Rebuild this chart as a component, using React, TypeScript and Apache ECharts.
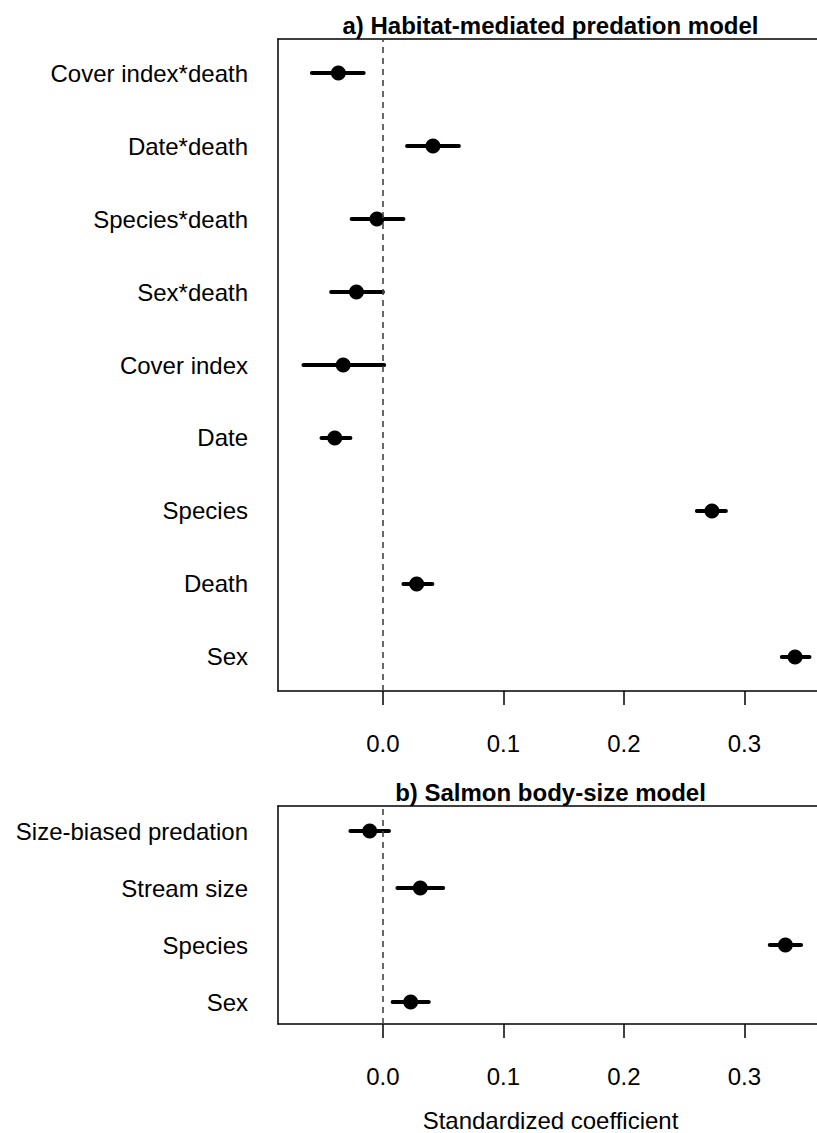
import React, { useEffect, useRef } from "react";
import * as echarts from "echarts";

// Panel a: Habitat-mediated predation model (top to bottom)
const labelsA = [
  "Cover index*death",
  "Date*death",
  "Species*death",
  "Sex*death",
  "Cover index",
  "Date",
  "Species",
  "Death",
  "Sex",
];
const estA = [-0.037, 0.0415, -0.005, -0.022, -0.033, -0.04, 0.273, 0.028, 0.342];
const lowA = [-0.059, 0.02, -0.026, -0.043, -0.066, -0.051, 0.2605, 0.017, 0.331];
const highA = [-0.016, 0.063, 0.017, 0.0, 0.001, -0.027, 0.2846, 0.041, 0.354];

// Panel b: Salmon body-size model (top to bottom)
const labelsB = ["Size-biased predation", "Stream size", "Species", "Sex"];
const estB = [-0.011, 0.031, 0.334, 0.023];
const lowB = [-0.027, 0.012, 0.321, 0.008];
const highB = [0.005, 0.05, 0.347, 0.038];

const xTicks = [0, 0.1, 0.2, 0.3];
const titleA = "a) Habitat-mediated predation model";
const titleB = "b) Salmon body-size model";
const xTitle = "Standardized coefficient";

const FONT = "'Liberation Sans', Arial, Helvetica, sans-serif";
const XMIN = -0.0871;
const XMAX = 0.385;

const GRID_LEFT = 278;
const PX_PER_UNIT = 1205;
const GRID_W = (XMAX - XMIN) * PX_PER_UNIT;
const TITLE_X = 550.5;
const BOX_LINE = { show: true, onZero: false, lineStyle: { color: "#000", width: 1.5 } };

function buildPanel(xIdx: number, yIdx: number, labels: string[], est: number[], lo: number[], hi: number[]) {
  const n = labels.length;
  const yVals = labels.map((_, i) => n - i);
  const bars = labels.map((_, i) => [lo[i], hi[i], yVals[i]]);
  const pts = labels.map((_, i) => [est[i], yVals[i]]);
  return {
    bars: {
      type: "custom",
      xAxisIndex: xIdx,
      yAxisIndex: yIdx,
      data: bars,
      encode: { x: [0, 1], y: 2 },
      clip: false,
      renderItem: (params: any, api: any) => {
        const p1 = api.coord([api.value(0), api.value(2)]);
        const p2 = api.coord([api.value(1), api.value(2)]);
        return {
          type: "line",
          shape: { x1: p1[0], y1: p1[1], x2: p2[0], y2: p2[1] },
          style: { stroke: "#000", lineWidth: 4, lineCap: "round" },
        };
      },
      z: 3,
    },
    points: {
      type: "scatter",
      xAxisIndex: xIdx,
      yAxisIndex: yIdx,
      data: pts,
      symbol: "circle",
      symbolSize: 15,
      itemStyle: { color: "#000", opacity: 1 },
      z: 4,
      markLine: {
        silent: true,
        symbol: ["none", "none"],
        label: { show: false },
        lineStyle: { color: "#444", type: [6, 5], width: 1.6 },
        data: [{ xAxis: 0 }],
      },
    },
  };
}

export default function App() {
  const ref = useRef<HTMLDivElement>(null);
  useEffect(() => {
    if (!ref.current) return;
    const chart = echarts.init(ref.current, null, { renderer: "svg" });
    const pa = buildPanel(0, 0, labelsA, estA, lowA, highA);
    const pb = buildPanel(2, 1, labelsB, estB, lowB, highB);
    const nA = labelsA.length;
    const nB = labelsB.length;

    const xBottom = {
      type: "value",
      position: "bottom",
      min: XMIN,
      max: XMAX,
      axisLine: BOX_LINE,
      splitLine: { show: false },
      axisTick: {
        show: true,
        customValues: xTicks,
        length: 14,
        lineStyle: { color: "#000", width: 1.5 },
      },
      axisLabel: {
        customValues: xTicks,
        formatter: (v: number) => v.toFixed(1),
        fontFamily: FONT,
        fontSize: 24,
        color: "#000",
        margin: 40,
      },
    };
    const xTop = {
      type: "value",
      position: "top",
      min: XMIN,
      max: XMAX,
      axisLine: BOX_LINE,
      splitLine: { show: false },
      axisTick: { show: false },
      axisLabel: { show: false },
    };

    const gridCommon = {
      left: GRID_LEFT,
      width: GRID_W,
      show: false,
      containLabel: false,
      outerBoundsMode: "none",
    };

    const yCommon = {
      type: "value",
      position: "left",
      axisLine: BOX_LINE,
      axisTick: { show: false },
      splitLine: { show: false },
    };

    const option: any = {
      animation: false,
      backgroundColor: "#fff",
      grid: [
        { ...gridCommon, top: 39, height: 652 },
        { ...gridCommon, top: 806, height: 218 },
      ],
      xAxis: [
        { ...xBottom, gridIndex: 0 },
        { ...xTop, gridIndex: 0 },
        { ...xBottom, gridIndex: 1 },
        { ...xTop, gridIndex: 1 },
      ],
      yAxis: [
        {
          ...yCommon,
          gridIndex: 0,
          min: 0.534,
          max: 9.466,
          axisLabel: {
            customValues: labelsA.map((_, i) => nA - i),
            formatter: (v: number) => labelsA[nA - Math.round(v)] ?? "",
            fontFamily: FONT,
            fontSize: 24,
            color: "#000",
            margin: 30,
          },
        },
        {
          ...yCommon,
          gridIndex: 1,
          min: 0.614,
          max: 4.44,
          axisLabel: {
            customValues: labelsB.map((_, i) => nB - i),
            formatter: (v: number) => labelsB[nB - Math.round(v)] ?? "",
            fontFamily: FONT,
            fontSize: 24,
            color: "#000",
            margin: 30,
          },
        },
      ],
      graphic: [
        {
          type: "text",
          x: TITLE_X,
          y: 25,
          style: {
            text: titleA,
            font: `bold 24px ${FONT}`,
            fill: "#000",
            textAlign: "center",
            align: "center",
            textVerticalAlign: "middle",
            verticalAlign: "middle",
          },
        },
        {
          type: "text",
          x: TITLE_X,
          y: 792,
          style: {
            text: titleB,
            font: `bold 24px ${FONT}`,
            fill: "#000",
            textAlign: "center",
            align: "center",
            textVerticalAlign: "middle",
            verticalAlign: "middle",
          },
        },
        {
          type: "text",
          x: TITLE_X,
          y: 1120,
          style: {
            text: xTitle,
            font: `24px ${FONT}`,
            fill: "#000",
            textAlign: "center",
            align: "center",
            textVerticalAlign: "middle",
            verticalAlign: "middle",
          },
        },
      ],
      series: [pa.bars, pa.points, pb.bars, pb.points],
    };
    chart.setOption(option);
    return () => chart.dispose();
  }, []);
  return (
    <div
      ref={ref}
      style={{ position: "absolute", left: 0, top: 0, width: 817, height: 1133, overflow: "hidden" }}
    />
  );
}
